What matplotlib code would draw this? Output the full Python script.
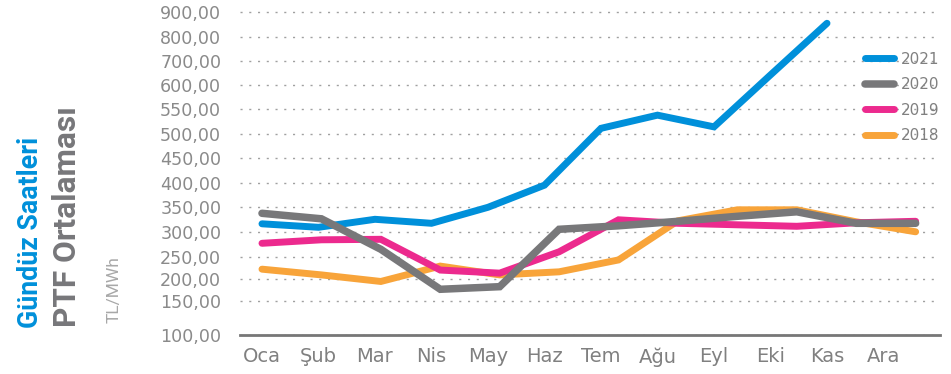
import numpy as np
import matplotlib
matplotlib.use('Agg')
import matplotlib.pyplot as plt

plt.rcParams['font.family'] = 'DejaVu Sans'

# monthly daytime PTF averages (TL/MWh)
months = ['Oca', 'Şub', 'Mar', 'Nis', 'May', 'Haz', 'Tem', 'Ağu', 'Eyl', 'Eki', 'Kas', 'Ara']
ptf_2021 = [317, 310, 326, 318, 350, 395, 511, 538, 514, 642, 855]
ptf_2020 = [338, 327, 266, 177, 183, 306, 313, 322, 332, 341, 318, 318]
ptf_2019 = [278, 285, 286, 221, 214, 261, 325, 318, 315, 312, 319, 322]
ptf_2018 = [223, 210, 195, 230, 210, 217, 244, 323, 345, 345, 321, 301]

# y axis ticks and where each one sits (in px above the baseline)
ytick_vals = [100, 150, 200, 250, 300, 350, 400, 450, 500, 550, 600, 700, 800, 900, 1000]
ytick_pos = [0, 34, 55.7, 77.7, 102.7, 127.7, 152.3, 176.7, 201.3, 225.7, 250, 274, 298.3, 322.7, 347.1]

def fwd(v):
    return np.interp(v, ytick_vals, ytick_pos)

def inv(p):
    return np.interp(p, ytick_pos, ytick_vals)

blue = '#0090da'
gray = '#78787a'
pink = '#ec2a8e'
orange = '#f8a43a'

W, H = 951, 374
fig = plt.figure(figsize=(W / 100, H / 100), dpi=100)
ymax = 920
top_px = fwd(ymax)
ax = fig.add_axes([240 / W, (H - 335) / H, 700 / W, top_px / H])
ax.set_yscale('function', functions=(fwd, inv))
ax.set_ylim(100, ymax)
ax.set_xlim(-0.389, 12.0)

ax.set_yticks(ytick_vals[:-1])
ax.set_yticklabels(['{:.2f}'.format(v).replace('.', ',') for v in ytick_vals[:-1]])
ax.set_xticks(range(12))
ax.set_xticklabels(months)
ax.tick_params(axis='y', length=0, pad=13.5, labelsize=12.6, labelcolor='#8a8a8a')
ax.tick_params(axis='x', length=0, pad=9, labelsize=14, labelcolor='#808080')
ax.yaxis.grid(True, color='#a0a0a0', linewidth=1.0, linestyle=(0, (1.5, 4.8)))
ax.set_axisbelow(True)
for s in ['top', 'left', 'right']:
    ax.spines[s].set_visible(False)
ax.spines['bottom'].set_color('#777777')
ax.spines['bottom'].set_linewidth(2)

lw = 5.0
l21, = ax.plot(range(len(ptf_2021)), ptf_2021, color=blue, lw=lw,
               solid_capstyle='round', solid_joinstyle='miter', label='2021')

# older years on a secondary x axis with a slightly wider month spacing
ax2 = ax.twiny()
ax2.set_xlim(-0.370, 11.41)
ax2.set_xticks([])
for s in ax2.spines.values():
    s.set_visible(False)
x = np.arange(12)
l18, = ax2.plot(x, ptf_2018, color=orange, lw=lw, solid_capstyle='round',
                solid_joinstyle='miter', label='2018', zorder=2)
l19, = ax2.plot(x, ptf_2019, color=pink, lw=lw, solid_capstyle='round',
                solid_joinstyle='miter', label='2019', zorder=3)
l20, = ax2.plot(x, ptf_2020, color=gray, lw=lw + 0.4, solid_capstyle='round',
                solid_joinstyle='miter', label='2020', zorder=4)

leg = fig.legend([l21, l20, l19, l18], ['2021', '2020', '2019', '2018'],
                 loc='upper left', bbox_to_anchor=(865 / W, 1 - 51.5 / H),
                 frameon=False, fontsize=11, handlelength=1.9,
                 handletextpad=0.45, labelspacing=0.69, borderpad=0,
                 borderaxespad=0)
for t in leg.get_texts():
    t.set_color('#808080')

# side titles
fig.text(31 / W, 1 - 328 / H, 'Gündüz Saatleri', rotation=90, ha='center', va='bottom',
         fontsize=19.3, fontweight='bold', color=blue, family='Roboto')
fig.text(67 / W, 1 - 327 / H, 'PTF Ortalaması', rotation=90, ha='center', va='bottom',
         fontsize=22.8, fontweight='bold', color='#77777a', family='Roboto')
fig.text(114 / W, 1 - 323 / H, 'TL/MWh', rotation=90, ha='center', va='bottom',
         fontsize=12.5, color='#a8a8a8', family='Roboto')

fig.savefig('out.png', dpi=100)
